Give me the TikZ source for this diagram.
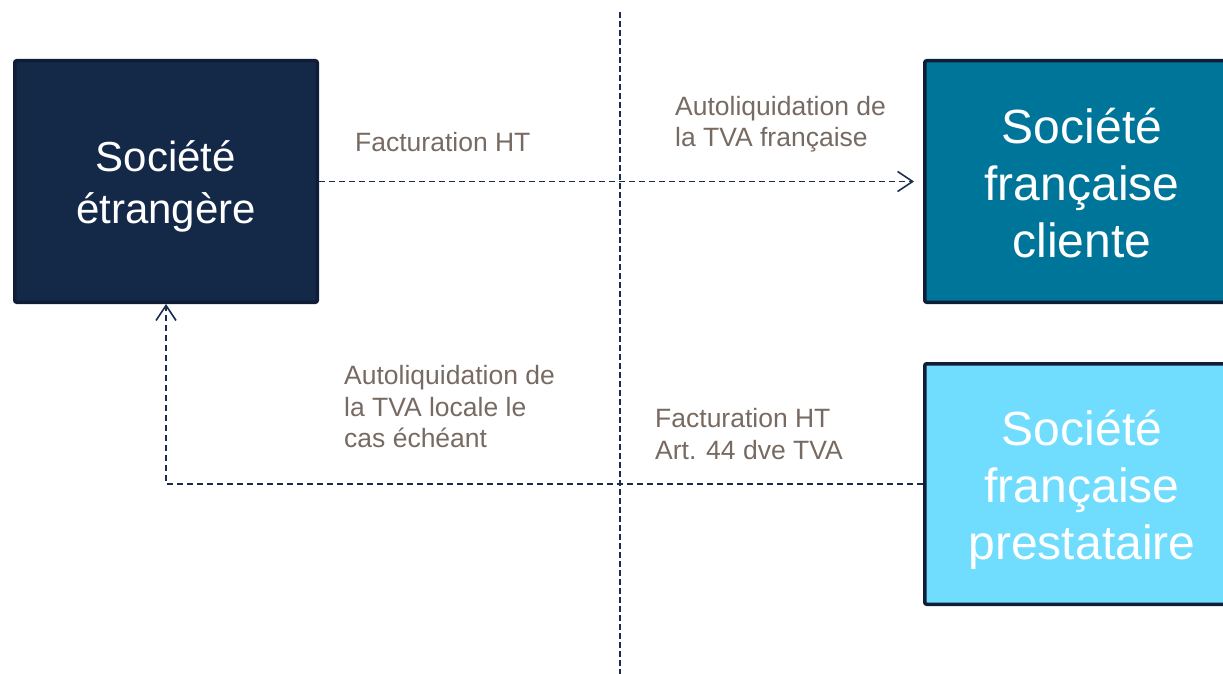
\documentclass[tikz,border=0pt]{standalone}
\usepackage{fontspec}
\setmainfont{Liberation Sans}
\usetikzlibrary{arrows.meta}
\definecolor{navy}{HTML}{142848}
\definecolor{navyline}{HTML}{0F1E36}
\definecolor{teal}{HTML}{00759A}
\definecolor{cyan}{HTML}{70DDFF}
\definecolor{conn}{HTML}{1A2D4E}
\definecolor{lbl}{HTML}{776A62}
\tikzset{
  box/.style={draw=navyline, line width=3.5pt, rounded corners=2pt, inner sep=0pt},
  boxtext/.style={text=white, align=center, inner sep=0pt},
  bigtext/.style={font=\fontsize{48}{57}\selectfont},
  midtext/.style={font=\fontsize{42}{52}\selectfont},
  lab/.style={text=lbl, anchor=west, align=left, inner sep=0pt, font=\fontsize{26.5}{31.5}\selectfont},
  conn/.style={draw=conn, line width=1.8pt, dash pattern=on 6pt off 4pt, -{Straight Barb[length=15pt,width=20pt,line width=1.6pt]}},
  divider/.style={draw=conn, line width=2pt, dash pattern=on 6pt off 3pt}
}
\begin{document}
\begin{tikzpicture}[x=1pt,y=-1pt]
\useasboundingbox (0,0) rectangle (1223,674);
\clip (0,0) rectangle (1223,674);
\coordinate (dtop) at (620,12);
\coordinate (dbot) at (620,674);
\draw[divider] (dtop) -- (dbot);
\node[box, fill=navy, minimum width=302.5pt, minimum height=241.5pt] (soc) at (166,181.5) {};
\node[box, fill=teal, minimum width=314.5pt, minimum height=241.5pt] (cli) at (1082,181.5) {};
\node[box, fill=cyan, minimum width=314.5pt, minimum height=240.5pt] (pre) at (1082,484) {};
\node[boxtext, midtext] (socT) at ([yshift=-5pt]soc.center) {Société\\étrangère};
\node[boxtext, bigtext] (cliT) at ([yshift=-2pt]cli.center) {Société\\française\\cliente};
\node[boxtext, bigtext] (preT) at ([yshift=-6pt]pre.center) {Société\\française\\prestataire};
\draw[conn, shorten >=9pt] (soc.east) -- (cli.west);
\draw[conn] (pre.west) -| (soc.south);
\node[lab] (l1) at (355,142) {Facturation HT};
\node[lab] (l2) at (675,124) {Autoliquidation de\\la TVA française};
\node[lab] (l3) at (344,407) {Autoliquidation de\\la TVA locale le\\cas échéant};
\node[lab] (l4) at (655,434) {Facturation HT\\Art. 44 dve TVA};
\end{tikzpicture}
\end{document}
